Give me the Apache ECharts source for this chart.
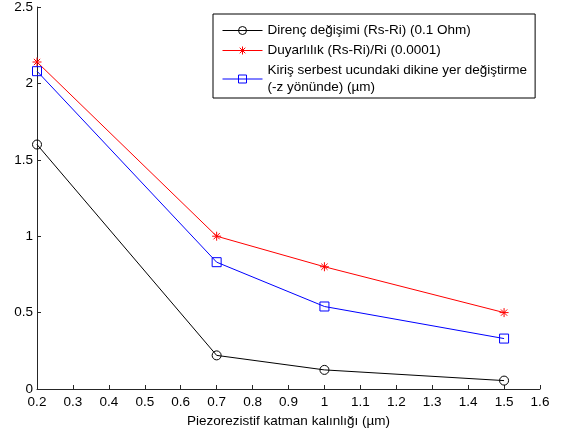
<!DOCTYPE html>
<html>
<head>
<meta charset="utf-8">
<script src="https://cdn.jsdelivr.net/npm/echarts@6/dist/echarts.min.js"></script>
<style>
  html, body { margin: 0; padding: 0; background: #fff; }
  #chart { width: 562px; height: 434px; }
</style>
</head>
<body>
<div id="chart"></div>
<script>
// Piezoresistive layer thickness (µm)
const thickness = [0.2, 0.7, 1.0, 1.5];
// Resistance change (Rs-Ri), in units of 0.1 Ohm
const resistanceChange = [1.6, 0.22, 0.125, 0.055];
// Sensitivity (Rs-Ri)/Ri, in units of 0.0001
const sensitivity = [2.14, 1.0, 0.8, 0.5];
// Free-end vertical displacement of the beam (-z), µm
const displacement = [2.08, 0.83, 0.54, 0.33];

const seriesNames = [
  'Direnç değişimi (Rs-Ri) (0.1 Ohm)',
  'Duyarlılık (Rs-Ri)/Ri (0.0001)',
  'Kiriş serbest ucundaki dikine yer değiştirme\n(-z yönünde) (µm)'
];

const axisName = 'Piezorezistif katman kalınlığı (µm)';

const FONT = "'Liberation Sans', Arial, sans-serif";
const FONT_SIZE = 13.5;
const AXIS_COLOR = '#262626';
const CLEAR = 'rgba(0,0,0,0)';

// asterisk marker: a plus and a cross overlaid
const asterisk = 'path://M0,5L10,5M5,0L5,10M1.5,1.5L8.5,8.5M8.5,1.5L1.5,8.5';
// hollow square outline
const square = 'path://M0,0L10,0L10,10L0,10Z';

function pairs(xs, ys) {
  return xs.map((x, i) => [x, ys[i]]);
}

const chart = echarts.init(document.getElementById('chart'), null, { renderer: 'canvas' });

chart.setOption({
  animation: false,
  backgroundColor: '#fff',
  textStyle: { fontFamily: FONT },
  grid: { left: 37, right: 22, top: 7, bottom: 45, containLabel: false },
  legend: {
    orient: 'vertical',
    left: 213,
    top: 14,
    padding: [8, 8, 2, 9],
    itemWidth: 40,
    itemHeight: 10,
    itemGap: 3,
    backgroundColor: '#fff',
    borderColor: '#000',
    borderWidth: 1,
    lineStyle: { width: 1 },
    itemStyle: { borderWidth: 1 },
    textStyle: { fontFamily: FONT, fontSize: FONT_SIZE, color: '#000', lineHeight: 17 },
    data: seriesNames
  },
  xAxis: {
    type: 'value',
    min: 0.2,
    max: 1.6,
    interval: 0.1,
    name: axisName,
    nameLocation: 'middle',
    nameGap: 23,
    nameTextStyle: { fontFamily: FONT, fontSize: FONT_SIZE, color: '#000' },
    axisLine: { show: true, onZero: false, lineStyle: { color: AXIS_COLOR, width: 1 } },
    axisTick: { show: true, inside: true, length: 4, lineStyle: { color: AXIS_COLOR } },
    axisLabel: { fontFamily: FONT, fontSize: FONT_SIZE, color: '#000', margin: 6 },
    splitLine: { show: false }
  },
  yAxis: {
    type: 'value',
    min: 0,
    max: 2.5,
    interval: 0.5,
    axisLine: { show: true, onZero: false, lineStyle: { color: AXIS_COLOR, width: 1 } },
    axisTick: { show: true, inside: true, length: 4, lineStyle: { color: AXIS_COLOR } },
    axisLabel: { fontFamily: FONT, fontSize: FONT_SIZE, color: '#000', margin: 4 },
    splitLine: { show: false }
  },
  series: [
    {
      name: seriesNames[0],
      type: 'line',
      data: pairs(thickness, resistanceChange),
      symbol: 'circle',
      symbolSize: 9,
      lineStyle: { color: '#000', width: 1 },
      itemStyle: { color: CLEAR, borderColor: '#000', borderWidth: 1 }
    },
    {
      name: seriesNames[1],
      type: 'line',
      data: pairs(thickness, sensitivity),
      symbol: asterisk,
      symbolSize: 9,
      lineStyle: { color: '#ff0000', width: 1 },
      itemStyle: { color: CLEAR, borderColor: '#ff0000', borderWidth: 1 }
    },
    {
      name: seriesNames[2],
      type: 'line',
      data: pairs(thickness, displacement),
      symbol: square,
      symbolSize: 9,
      lineStyle: { color: '#0000ff', width: 1 },
      itemStyle: { color: CLEAR, borderColor: '#0000ff', borderWidth: 1 }
    }
  ]
});
</script>
</body>
</html>
